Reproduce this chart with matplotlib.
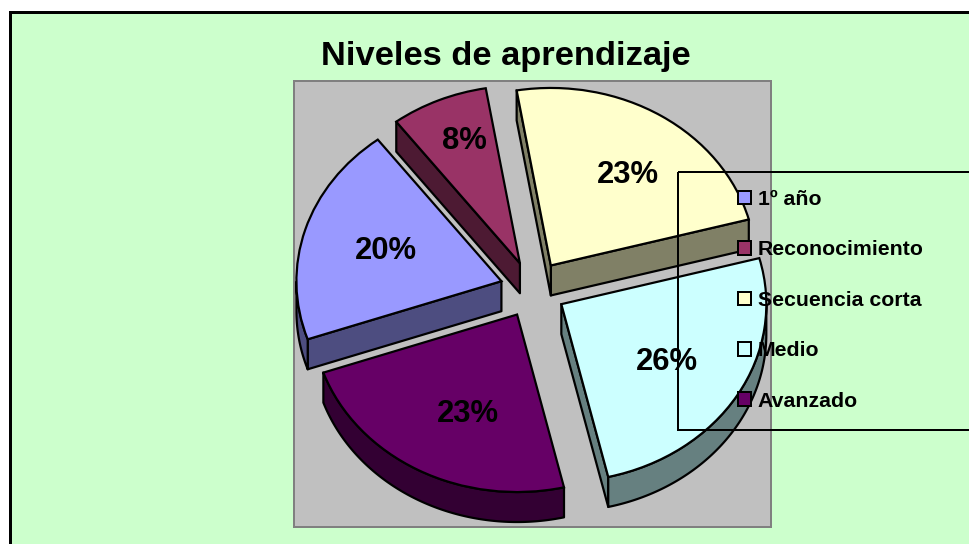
import numpy as np
import matplotlib
matplotlib.use("Agg")
import matplotlib.pyplot as plt
from matplotlib.patches import Rectangle, Patch, Polygon

plt.rcParams['font.family'] = ['Liberation Sans', 'DejaVu Sans']

title = "Niveles de aprendizaje"
categories = ["1º año", "Reconocimiento", "Secuencia corta", "Medio", "Avanzado"]
values = [20.0, 7.64, 23.49, 25.5, 23.37]
top_colors = ["#9999FF", "#993366", "#FFFFCC", "#CCFFFF", "#660066"]
side_colors = ["#4D4D80", "#4D1A33", "#808066", "#668080", "#330033"]

W, H = 970, 544
PX = 72 / 100  # points per pixel
fig = plt.figure(figsize=(W / 100, H / 100), dpi=100, facecolor="white")

# canvas in pixel units: chart area and frame
bg = fig.add_axes([0, 0, 1, 1], zorder=0)
bg.set_xlim(0, W); bg.set_ylim(H, 0); bg.axis("off")
bg.add_patch(Rectangle((10.5, 11.5), W + 50, H + 50, facecolor="#CCFFCC",
                       edgecolor="black", lw=3 * PX))
bg.text(505.5, 57, title, ha="center", va="center", fontsize=24.8, fontweight="bold")

# plot area
L, T, R, B = 294.5, 80.5, 771.5, 527
ax = fig.add_axes([L / W, 1 - B / H, (R - L) / W, (B - T) / H], zorder=1, facecolor="#C0C0C0")
RX, RY, CX, CY = 205.0, 177.5, 533.0, 289.5
DEPTH = 30.0 / RY

wedges, _, autotexts = ax.pie(
    values, explode=[33 / RX] * len(values), colors=top_colors,
    startangle=90 - 250.9, counterclock=False, radius=1.0, frame=True,
    autopct="%.0f%%", pctdistance=0.62,
    wedgeprops=dict(edgecolor="black", linewidth=2.2 * PX, zorder=3),
    textprops=dict(fontsize=22.3, fontweight="bold", color="black", zorder=5),
)
ax.set_aspect("auto")
ax.set_xlim((L - CX) / RX, (R - CX) / RX)
ax.set_ylim((CY - B) / RY, (CY - T) / RY)
ax.set_xticks([]); ax.set_yticks([])
for s in ax.spines.values():
    s.set_color("#808080"); s.set_linewidth(2 * PX)

# extruded sides, derived from the wedges the pie produced
for w, side in zip(wedges, side_colors):
    cx, cy = w.center
    style = dict(facecolor=side, edgecolor="black", linewidth=2.2 * PX, joinstyle="round", zorder=2)
    for t, visible in ((w.theta1, np.cos(np.radians(w.theta1)) > 0),
                       (w.theta2, np.cos(np.radians(w.theta2)) < 0)):
        if visible:
            ex, ey = cx + np.cos(np.radians(t)), cy + np.sin(np.radians(t))
            ax.add_patch(Polygon([(cx, cy), (ex, ey), (ex, ey - DEPTH), (cx, cy - DEPTH)], **style))
    ts = np.radians(np.linspace(w.theta1, w.theta2, 400))
    ts = ts[np.sin(ts) <= 0]
    if len(ts) > 1:
        xs, ys = cx + np.cos(ts), cy + np.sin(ts)
        ax.add_patch(Polygon(np.r_[np.c_[xs, ys], np.c_[xs, ys - DEPTH][::-1]], **style))

# fine placement of the percentage labels (pixels right, pixels down)
label_nudge = [(6, 2), (5, 0), (8.5, 2), (-3.5, 1), (12, 3)]
w = wedges[1]
mid = np.radians((w.theta1 + w.theta2) / 2)
autotexts[1].set_position((w.center[0] + 0.75 * np.cos(mid), w.center[1] + 0.75 * np.sin(mid)))
for txt, (dx, dy) in zip(autotexts, label_nudge):
    x, y = txt.get_position()
    txt.set_position((x + dx / RX, y - dy / RY))

# legend overlay, its frame runs past the canvas edge
ov = fig.add_axes([0, 0, 1, 1], zorder=2, facecolor="none")
ov.set_xlim(0, W); ov.set_ylim(H, 0); ov.axis("off")
ov.add_patch(Rectangle((678.5, 171.5), W, 258, facecolor="none", edgecolor="black", lw=2 * PX))
handles = [Patch(facecolor=c, edgecolor="black", linewidth=2 * PX) for c in top_colors]
ov.legend(handles, categories, loc="upper left", bbox_to_anchor=(738, 190),
          bbox_transform=ov.transData, frameon=False, borderpad=0, borderaxespad=0,
          prop=dict(family="Liberation Sans", weight="bold", size=15.3),
          handlelength=0.62, handleheight=0.62, handletextpad=0.3, labelspacing=1.48)

fig.savefig("out.png", dpi=100)
